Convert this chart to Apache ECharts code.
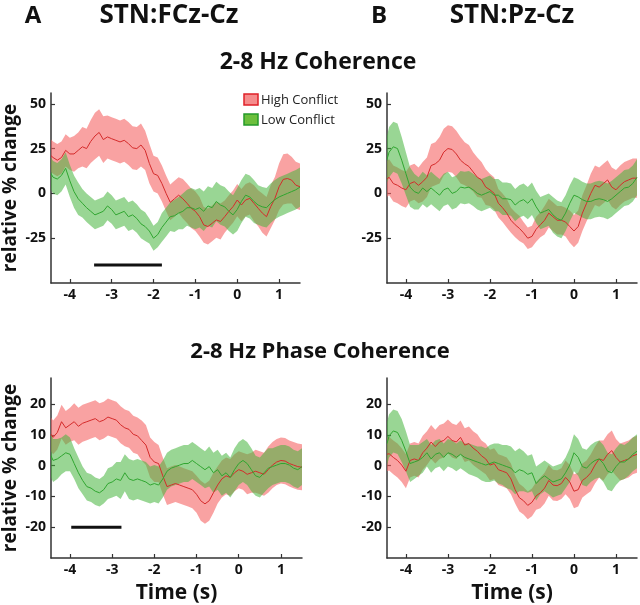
<!DOCTYPE html>
<html>
<head>
<meta charset="utf-8">
<script src="https://cdn.jsdelivr.net/npm/echarts@6/dist/echarts.min.js"></script>
<style>
html, body { margin: 0; padding: 0; background: #fff; }
#main { width: 640px; height: 605px; }
</style>
</head>
<body>
<div id="main"></div>
<script>
// time axis (s)
var times = [-4.45, -4.4, -4.3, -4.2, -4.1, -4.0,
    -3.9, -3.8, -3.7, -3.6, -3.5, -3.4, -3.3, -3.2, -3.1, -3.0,
    -2.9, -2.8, -2.7, -2.6, -2.5, -2.4, -2.3, -2.2, -2.1, -2.0,
    -1.9, -1.8, -1.7, -1.6, -1.5, -1.4, -1.3, -1.2, -1.1, -1.0,
    -0.9, -0.8, -0.7, -0.6, -0.5, -0.4, -0.3, -0.2, -0.1, 0,
    0.1, 0.2, 0.3, 0.4, 0.5, 0.6, 0.7, 0.8, 0.9, 1.0,
    1.1, 1.2, 1.3, 1.4, 1.5];

var xTicks = [-4, -3, -2, -1, 0, 1];
var cohTicks = [-25, 0, 25, 50];
var phaseTicks = [-20, -10, 0, 10, 20];

// 2-8 Hz coherence, STN:FCz-Cz
var cohFczHigh = [21, 20, 18.5, 20, 24, 22,
    22, 24, 26, 25, 29, 32, 34, 30, 31.5, 30.5,
    29.6, 28.7, 29.6, 27.8, 25.4, 25, 27, 24, 16.7, 11,
    10, 5.5, 0, -5, -3, -1, -3, -5.5, -8.3, -10,
    -13, -17.6, -18.5, -16.7, -14.8, -15.7, -13, -10, -7.4, -3.7,
    -6.5, -3.7, -2.8, -5.5, -8.3, -11, -13, -7.4, -2.8, 3.7,
    7.8, 8.3, 7.4, 4.6, 3.7];
var cohFczHighErr = [9, 9, 9, 9, 9, 9,
    10, 10, 11, 11, 12, 13, 13, 13, 12, 12,
    12, 12, 12, 12, 12, 12, 12, 11, 11, 10,
    10, 10, 10, 10, 10, 10, 11, 11, 11, 11,
    11, 10, 10, 10, 10, 10, 9, 9, 9, 9,
    9, 9, 9, 10, 10, 11, 11, 12, 12, 13,
    14, 14, 13, 13, 13];
var cohFczLow = [11, 9, 8, 10, 14, 7,
    1, -3, -5.5, -8, -10, -12, -11, -10, -7, -9,
    -12, -11, -10, -13, -12, -14, -17, -18.5, -21, -25,
    -23, -19, -16, -13, -12.5, -11, -10, -8, -8, -9,
    -8, -10, -7, -8, -4.5, -6.5, -7.5, -10, -12, -9,
    -4.5, -1, -2, -4.5, -6.5, -7.5, -8, -5.5, -3.5, -2,
    -1, 0, 1, 2, 3.5];
var cohFczLowErr = [9, 9, 9, 9, 9, 9,
    9, 9, 8, 8, 8, 8, 8, 8, 8, 8,
    8, 8, 8, 8, 8, 8, 8, 8, 7, 7,
    7, 8, 8, 8, 9, 9, 10, 10, 11, 11,
    11, 11, 11, 11, 11, 11, 11, 11, 11, 12,
    12, 12, 12, 12, 11, 11, 11, 11, 11, 11,
    11, 11, 11, 11, 11];

// 2-8 Hz coherence, STN:Pz-Cz
var cohPzHigh = [8, 9, 5.5, 4.5, 3, 2,
    5.5, 6.5, 4.5, 6.5, 9, 15.5, 16.5, 18.5, 23, 25,
    24.5, 22, 18.5, 16.5, 15, 12, 9, 7.5, 3.5, 2,
    0, -5.5, -8, -11, -15, -17.5, -19.5, -22, -25, -24,
    -20, -17.5, -15, -11, -13, -15, -15, -16, -18.5, -21,
    -18.5, -11, -5.5, 0, 4.5, 3.5, 5.5, 7.5, 3.5, 2,
    4.5, 6.5, 7.5, 8.5, 8.5];
var cohPzHighErr = [10, 10, 10, 10, 10, 10,
    10, 10, 10, 11, 11, 12, 12, 13, 13, 13,
    13, 13, 13, 12, 12, 11, 11, 10, 10, 9,
    9, 8, 8, 8, 7, 7, 7, 6, 6, 6,
    7, 7, 8, 8, 8, 8, 8, 8, 9, 9,
    9, 10, 10, 11, 11, 11, 11, 11, 11, 11,
    11, 11, 11, 11, 11];
var cohPzLow = [19, 23, 26, 25, 18.5, 11,
    3.5, 1, 0, 3, 1, 3, 1, -1, 2, 3,
    0, 1, 3.5, 3, 3.5, 2, 0, -1, 0, 1,
    -1, -1, -3, -3, -3.5, -6.5, -4.5, -3.5, -5.5, -3,
    -7.5, -11, -10, -9, -12, -14, -15, -11, -5.5, -1,
    -2, -3.5, -4.5, -4.5, -3.5, -3, -3.5, -4.5, -3, -1,
    1, 3, 3.5, 5.5, 9];
var cohPzLowErr = [13, 14, 14, 14, 13, 12,
    11, 10, 9, 9, 9, 9, 9, 9, 9, 9,
    9, 9, 9, 9, 9, 9, 9, 9, 9, 9,
    9, 9, 9, 9, 9, 9, 9, 9, 9, 9,
    9, 9, 9, 9, 10, 10, 10, 10, 10, 10,
    10, 10, 10, 10, 10, 10, 10, 10, 10, 10,
    10, 10, 10, 10, 10];

// 2-8 Hz phase coherence, STN:FCz-Cz
var phFczHigh = [10.2, 9.2, 10.8, 14.3, 12.3, 13.3,
    14.3, 12.8, 13.8, 14.3, 14.8, 15.3, 14.3, 14.8, 15.8, 15.3,
    14.8, 13.3, 12.3, 11.8, 10.2, 9.7, 8.2, 6.7, 2.7, 1.2,
    0.7, -3.3, -6.8, -6.3, -5.8, -6.3, -6.8, -7.3, -7.8, -9.3,
    -11.4, -12.4, -11.4, -8.8, -6.3, -4.3, -3.3, -3.8, -2.3, -1.3,
    -1.8, -2.8, -2.3, -1.8, -2.3, -2.8, -1.3, 0.2, 1.2, 1.7,
    1.5, 0.7, 0.2, -0.3, -0.5];
var phFczHighErr = [5.5, 5.5, 5.5, 5.5, 5.5, 5.5,
    6, 6, 6, 6, 6, 6, 6, 6, 6, 6,
    6, 6, 6, 6, 6, 6, 6.5, 6.5, 6.5, 6.5,
    6, 6, 6, 6, 6, 6, 6, 6, 6, 6,
    6.5, 6.5, 6.5, 6.5, 6, 6, 6, 6, 6, 6,
    6, 6.5, 6.5, 7, 7, 7, 7.5, 7.5, 7.5, 7.5,
    7.5, 7.5, 7.5, 7.5, 7.5];
var phFczLow = [3.2, 1.7, 2.2, 3.2, 4.2, 3.7,
    0.7, -2.3, -4.8, -6.8, -7.3, -8.3, -8.8, -7.8, -5.8, -5.3,
    -4.3, -4.8, -2.3, -4.3, -4.8, -4.3, -4.8, -5.3, -6.3, -5.8,
    -6.3, -4.3, -1.8, -0.8, -0.3, 0.2, 0.7, 0.7, 1.7, 0.7,
    -0.3, -1.3, -0.3, -2.3, -1.3, -3.3, -2.3, -3.8, -1.3, 0.7,
    1.7, 0.7, -1.3, -3.3, -3.8, -2.3, -0.8, -0.3, 0.2, 0.7,
    0.7, 0.2, -0.8, -1.3, -0.3];
var phFczLowErr = [7, 7, 6.5, 6, 6, 5.5,
    5, 5, 4.5, 4.5, 4.5, 4.5, 4.5, 4.5, 5, 5,
    5.5, 6, 6, 6.5, 6.5, 6.5, 6.5, 6.5, 6, 6,
    6, 6, 6, 6, 6, 6, 6, 6, 6, 6,
    6, 6, 6.5, 6.5, 6.5, 6.5, 6.5, 6.5, 7, 7,
    7, 7, 7, 6.5, 6.5, 6.5, 6.5, 6, 6, 6,
    6, 6, 6, 6, 6];

// 2-8 Hz phase coherence, STN:Pz-Cz
var phPzHigh = [3.7, 3.9, 2.7, 1.7, 0.2, -1.8,
    1.7, 2.2, 1.7, 4.2, 5.7, 7.7, 6.2, 7.7, 8.2, 9.5,
    8.2, 7.7, 9.2, 6.7, 7.2, 5.7, 4.7, 3.2, 2.2, 0.2,
    0.7, -1.3, -1.8, -2.3, -4.3, -7.8, -10.4, -11.4, -12.9, -11.9,
    -9.8, -8.8, -7.3, -4.8, -6.3, -6.5, -5.8, -3.8, -5.3, -8.3,
    -7.8, -4.8, -3.8, -2.3, 0.2, 2.2, 1.7, 3.7, 4.9, 2.7,
    1.2, 1.7, 2.2, 3.2, 3.7];
var phPzHighErr = [5.5, 5.5, 5.5, 5.5, 5.5, 5.5,
    5.5, 5.5, 5.5, 5.5, 5.5, 5.5, 5.5, 5.5, 5.5, 5.5,
    5.5, 5.5, 5.5, 5.5, 5.5, 5.5, 5.5, 5, 5, 5,
    5, 5, 5, 5, 5, 4.5, 4.5, 4.5, 4.5, 4.5,
    4.5, 5, 5, 5, 5, 5, 5, 5.5, 5.5, 5.5,
    5.5, 5.5, 5.5, 6, 6, 6, 6.5, 6.5, 6.5, 6,
    6, 6, 6, 6, 6];
var phPzLow = [7.2, 9.7, 11.3, 10.8, 8.2, 4.7,
    0.7, 1.2, 1.7, 2.7, 4.2, 2.2, 3.7, 4.2, 2.7, 4.2,
    3.7, 2.7, 3.7, 2.7, 2.2, 1.7, 1.2, 0.7, 0.2, 0.7,
    1.2, 0.7, 0.2, -0.3, -0.8, -2.3, -1.3, -1.8, -2.8, -2.3,
    -5.8, -4.3, -3.3, -4.3, -5.3, -4.8, -4.3, -2.3, 0.2, 4.2,
    2.7, -0.3, -0.8, 0.7, 1.7, 2.2, 0.7, -1.8, -2.3, -0.3,
    1.2, 1.2, 2.2, 3.7, 4.7];
var phPzLowErr = [7, 7, 7, 7, 7, 6.5,
    6, 5.5, 5, 5, 4.5, 4.5, 4.5, 4.5, 4.5, 4.5,
    4.5, 4.5, 4.5, 4.5, 5, 5, 5, 5.5, 5.5, 6,
    6, 6.5, 6.5, 7, 7, 7, 7, 6.5, 6, 6,
    5.5, 5, 5, 5, 5, 5, 5, 5, 5.5, 6,
    6, 6, 6, 6, 6, 6, 6, 6, 6, 6,
    6, 5.5, 5.5, 5.5, 5.5];

// significance bars: [start, end] in s, and level
var sigCoh = [-3.42, -1.8];
var sigCohLevel = -40;
var sigPhase = [-3.97, -2.78];
var sigPhaseLevel = -20;

var FONT = '"Open Sans", "Noto Sans", sans-serif';
var RED_BAND = 'rgba(245, 100, 100, 0.6)';
var GREEN_BAND = 'rgba(70, 180, 60, 0.55)';
var RED_LINE = '#d42a2a';
var GREEN_LINE = '#2fa52f';

var grids = [
    { left: 49, top: 93, width: 251, height: 190 },
    { left: 387, top: 93, width: 250, height: 190 },
    { left: 50, top: 378, width: 252, height: 192 },
    { left: 387, top: 378, width: 250, height: 192 }
];

function xAxis(gi, named) {
    return {
        type: 'value', gridIndex: gi, min: -4.45, max: 1.5,
        name: named ? 'Time (s)' : '', nameLocation: 'middle', nameGap: 25,
        nameTextStyle: { fontFamily: FONT, fontWeight: 'bold', fontSize: 21, color: '#111' },
        axisLine: { onZero: false, lineStyle: { color: '#333', width: 1.5 } },
        axisTick: { inside: true, length: 4, customValues: xTicks, lineStyle: { color: '#333', width: 1.2 } },
        axisLabel: { customValues: xTicks, margin: 5, fontFamily: FONT, fontWeight: 'bold', fontSize: 14, color: '#111' },
        splitLine: { show: false }
    };
}

function yAxis(gi, min, max, ticks, named) {
    return {
        type: 'value', gridIndex: gi, min: min, max: max,
        name: named ? 'relative % change' : '', nameLocation: 'middle', nameGap: 31,
        nameTextStyle: { fontFamily: FONT, fontWeight: 'bold', fontSize: 19, color: '#111' },
        axisLine: { show: true, onZero: false, lineStyle: { color: '#333', width: 1.5 } },
        axisTick: { show: true, inside: true, length: 4, customValues: ticks, lineStyle: { color: '#333', width: 1.2 } },
        axisLabel: { customValues: ticks, margin: 5, fontFamily: FONT, fontWeight: 'bold', fontSize: 14, color: '#111' },
        splitLine: { show: false }
    };
}

function band(gi, mean, err, color) {
    return {
        type: 'custom', xAxisIndex: gi, yAxisIndex: gi, silent: true, z: 1,
        data: [[times[0], mean[0]]],
        renderItem: function (params, api) {
            var pts = [], i;
            for (i = 0; i < times.length; i++) {
                pts.push(api.coord([times[i], mean[i] + err[i]]));
            }
            for (i = times.length - 1; i >= 0; i--) {
                pts.push(api.coord([times[i], mean[i] - err[i]]));
            }
            return { type: 'polygon', shape: { points: pts }, style: { fill: color } };
        }
    };
}

function line(gi, mean, color) {
    return {
        type: 'line', xAxisIndex: gi, yAxisIndex: gi, silent: true, z: 3,
        showSymbol: false, animation: false,
        data: times.map(function (t, i) { return [t, mean[i]]; }),
        lineStyle: { color: color, width: 1 }
    };
}

function sigBar(gi, span, level) {
    return {
        type: 'line', xAxisIndex: gi, yAxisIndex: gi, silent: true, z: 4,
        showSymbol: false, animation: false,
        data: [[span[0], level], [span[1], level]],
        lineStyle: { color: '#111', width: 3 }
    };
}

function label(text, x, y, size, weight) {
    return {
        type: 'text', x: x, y: y,
        style: {
            text: text, fill: '#111', textAlign: 'center', textVerticalAlign: 'middle',
            font: (weight || 'bold') + ' ' + size + 'px ' + FONT
        }
    };
}

var option = {
    animation: false,
    grid: grids,
    xAxis: [xAxis(0, false), xAxis(1, false), xAxis(2, true), xAxis(3, true)],
    yAxis: [
        yAxis(0, -50, 56, cohTicks, true),
        yAxis(1, -50, 56, cohTicks, false),
        yAxis(2, -30, 28.5, phaseTicks, true),
        yAxis(3, -30, 28.5, phaseTicks, false)
    ],
    series: [
        band(0, cohFczHigh, cohFczHighErr, RED_BAND),
        band(0, cohFczLow, cohFczLowErr, GREEN_BAND),
        line(0, cohFczHigh, RED_LINE),
        line(0, cohFczLow, GREEN_LINE),
        sigBar(0, sigCoh, sigCohLevel),

        band(1, cohPzHigh, cohPzHighErr, RED_BAND),
        band(1, cohPzLow, cohPzLowErr, GREEN_BAND),
        line(1, cohPzHigh, RED_LINE),
        line(1, cohPzLow, GREEN_LINE),

        band(2, phFczHigh, phFczHighErr, RED_BAND),
        band(2, phFczLow, phFczLowErr, GREEN_BAND),
        line(2, phFczHigh, RED_LINE),
        line(2, phFczLow, GREEN_LINE),
        sigBar(2, sigPhase, sigPhaseLevel),

        band(3, phPzHigh, phPzHighErr, RED_BAND),
        band(3, phPzLow, phPzLowErr, GREEN_BAND),
        line(3, phPzHigh, RED_LINE),
        line(3, phPzLow, GREEN_LINE)
    ],
    graphic: [
        label('A', 33, 16, 24),
        label('STN:FCz-Cz', 169, 16, 26),
        label('B', 379, 16, 24),
        label('STN:Pz-Cz', 512, 16, 26),
        label('2-8 Hz Coherence', 318, 62, 23),
        label('2-8 Hz Phase Coherence', 320, 352, 22),
        // legend
        { type: 'rect', shape: { x: 244, y: 94, width: 14, height: 11 },
          style: { fill: '#f58c8c', stroke: '#e02028', lineWidth: 1.5 } },
        { type: 'rect', shape: { x: 244, y: 114, width: 14, height: 11 },
          style: { fill: '#6cbf3c', stroke: '#249a2a', lineWidth: 1.5 } },
        { type: 'text', x: 261, y: 100,
          style: { text: 'High Conflict', fill: '#222', textVerticalAlign: 'middle', font: '13px ' + FONT } },
        { type: 'text', x: 261, y: 120,
          style: { text: 'Low Conflict', fill: '#222', textVerticalAlign: 'middle', font: '13px ' + FONT } }
    ]
};

var chart = echarts.init(document.getElementById('main'));
chart.setOption(option);
</script>
</body>
</html>
